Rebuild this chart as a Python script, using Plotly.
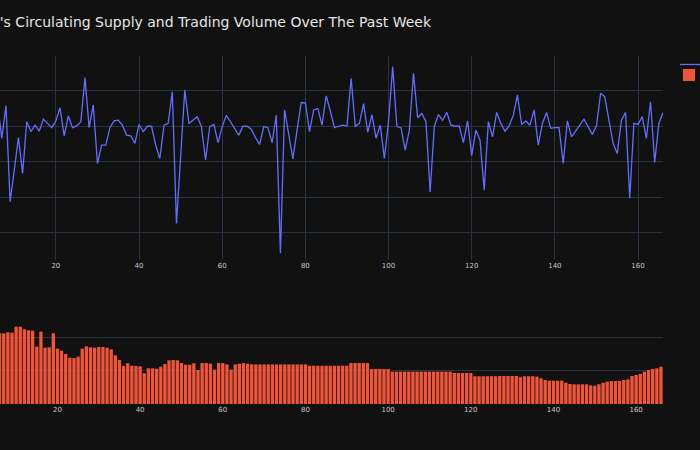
import plotly.graph_objects as go
from plotly.subplots import make_subplots

days = list(range(6, 167))

supply = [
    136.0, 126.6, 135.8, 108.7, 117.7, 126.8, 116.7, 131.3, 128.5, 130.3,
    128.6, 132.0, 130.8, 129.6, 131.5, 135.2, 127.3, 132.9, 129.6, 130.1,
    131.3, 143.7, 129.6, 136.0, 119.5, 124.7, 124.7, 129.6, 131.5, 131.7,
    130.3, 127.5, 127.3, 125.2, 130.5, 128.5, 130.0, 130.0, 124.7, 120.9,
    130.3, 130.8, 139.7, 102.6, 121.4, 140.2, 130.8, 131.7, 132.7, 129.9,
    120.5, 129.9, 130.5, 125.4, 129.9, 133.1, 131.3, 129.4, 127.5, 130.0,
    130.0, 129.2, 126.8, 124.9, 129.9, 129.6, 125.4, 133.1, 94.2, 134.6,
    127.5, 120.8, 128.9, 136.7, 136.6, 128.5, 134.6, 135.0, 130.3, 138.6,
    134.3, 129.6, 130.0, 130.3, 130.0, 143.5, 130.0, 130.8, 136.4, 128.3,
    133.3, 126.6, 130.3, 120.9, 131.3, 146.8, 129.9, 129.6, 123.3, 128.9,
    144.9, 132.4, 133.6, 131.3, 111.5, 129.9, 133.3, 131.7, 133.9, 130.3,
    130.0, 130.1, 125.4, 131.5, 121.7, 128.9, 126.1, 112.0, 131.3, 127.0,
    133.9, 130.8, 128.6, 130.1, 133.1, 138.8, 130.5, 131.5, 130.3, 134.6,
    124.7, 130.8, 133.9, 129.4, 129.6, 129.6, 119.5, 131.5, 127.0, 128.6,
    130.1, 132.0, 129.9, 127.7, 130.1, 139.3, 138.3, 131.7, 125.2, 122.3,
    131.7, 133.9, 109.7, 130.8, 130.5, 132.7, 126.6, 136.9, 119.8, 130.8,
    133.9,
]

volume = [
    107.1, 107.1, 108.6, 108.0, 117.1, 117.1, 113.2, 111.7, 111.0, 86.8,
    109.5, 85.3, 85.9, 107.1, 83.8, 80.7, 75.8, 70.1, 69.7, 71.7,
    83.8, 87.4, 85.9, 85.3, 86.4, 86.4, 85.3, 82.9, 73.8, 66.7,
    57.6, 61.7, 58.0, 57.6, 57.1, 46.5, 54.1, 54.1, 53.5, 56.5,
    60.6, 66.2, 66.7, 66.2, 62.1, 59.5, 59.5, 61.7, 51.5,
    62, 62, 61, 52, 62, 62, 60, 52, 60, 61, 62, 61,
    60, 60, 60, 60, 60, 60, 60, 60, 60, 60, 60, 60, 60, 60,
    58, 58, 58, 58, 58, 58, 58, 58, 58, 58,
    62, 62, 62, 62, 62,
    53, 53, 53, 53, 53,
    49, 49, 49, 49, 49, 49, 49, 49, 49, 49, 49, 49, 49, 49, 49,
    47, 47, 47, 47, 47,
    42, 42, 42, 42, 42, 42,
    42.4, 42.4, 42.4, 42.4, 42.4, 40.5, 42.0, 42.0, 42.0, 41.4,
    38.9, 36.4, 35.3, 35.3, 35.3, 35.3, 32.3, 30.3, 29.8, 29.8,
    29.8, 29.8, 28.3, 27.7, 29.8, 32.3, 33.8, 34.8, 34.8, 34.8,
    36.4, 37.4, 42.4, 43.9, 45.5, 48.9, 51.5, 53.0, 54.1, 56.5,
]

title_text = "Bitcoin's Circulating Supply and Trading Volume Over The Past Week"

fig = make_subplots(rows=2, cols=1, vertical_spacing=0.1)
fig.add_trace(go.Scatter(x=days, y=supply, mode="lines", name="Circulating Supply",
                         line=dict(color="#636efa", width=1.3), legend="legend3",
                         showlegend=True),
              row=1, col=1)
fig.add_trace(go.Bar(x=days, y=volume, name="Trading Volume", legend="legend2",
                     showlegend=True,
                     marker=dict(color="#EF553B", line=dict(width=0))), row=2, col=1)

fig.update_layout(
    template="plotly_dark",
    width=700, height=450,
    margin=dict(l=0, r=37, t=56, b=46),
    font=dict(family="DejaVu Sans", size=7, color="#c8c8c8"),
    title=dict(text=title_text, x=431 / 700, xref="container", xanchor="right",
               y=1 - 22 / 450, yref="container", yanchor="middle",
               font=dict(size=14, color="#e6e6e6")),
    legend3=dict(x=675 / 700, y=1 - 50 / 450, xref="container", yref="container",
                 xanchor="left", yanchor="top", font=dict(size=7),
                 bgcolor="rgba(0,0,0,0)"),
    legend2=dict(x=669 / 700, y=1 - 60.5 / 450, xref="container", yref="container",
                 xanchor="left", yanchor="top", font=dict(size=7),
                 bgcolor="rgba(0,0,0,0)"),
    bargap=0.2,
    plot_bgcolor="#111111", paper_bgcolor="#111111",
)
fig.update_xaxes(range=[6.565, 166], dtick=20, showgrid=True, gridcolor="#283442",
                 zeroline=False, automargin=False, row=1, col=1)
fig.update_xaxes(range=[6.10, 166.5], dtick=20, showgrid=False,
                 zeroline=False, automargin=False, row=2, col=1)
fig.update_yaxes(range=[92.3, 149.8], dtick=10, gridcolor="#283442", zeroline=False,
                 showticklabels=False, automargin=False, row=1, col=1)
fig.update_yaxes(range=[0, 124.2], dtick=50, gridcolor="#283442", zeroline=False,
                 showticklabels=False, automargin=False, row=2, col=1)
fig.update_layout(yaxis=dict(domain=[(404 - 260) / 348, 1]),
                  yaxis2=dict(domain=[0, (404 - 322) / 348]))

fig.write_html(
    "out.html",
    config={"displayModeBar": False},
    post_script="document.body.style.margin='0';document.body.style.overflow='hidden';"
                "document.body.style.background='#111111';",
)
